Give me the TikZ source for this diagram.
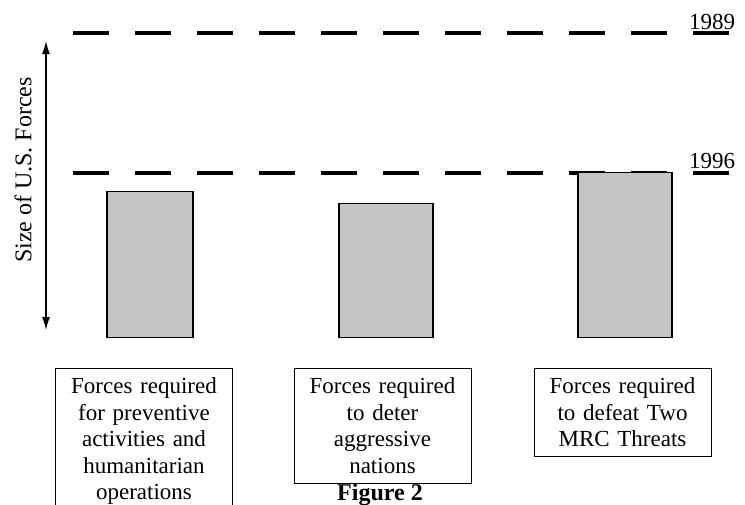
\documentclass[tikz,border=0pt]{standalone}
\usepackage{fontspec}
\setmainfont{Liberation Serif}
\usetikzlibrary{arrows.meta}
\tikzset{
  dashline/.style={line width=3.7pt, dash pattern=on 36pt off 26pt},
  barbox/.style={draw=black, line width=1.5pt, fill=black!23, inner sep=0pt},
  textbox/.style={draw=black, line width=1pt, anchor=north, minimum width=177pt,
    text width=165pt, align=center, inner xsep=6pt, inner ysep=9.5pt,
    font=\fontsize{23}{26.5}\selectfont},
  yearlabel/.style={anchor=base west, inner sep=0pt, font=\fontsize{23}{26}\selectfont},
  axisarrow/.style={line width=1.2pt, {Latex[length=13pt,width=8pt]}-{Latex[length=13pt,width=8pt]}}
}
\begin{document}
\begin{tikzpicture}[x=1pt,y=-1pt]
\useasboundingbox[fill=white] (0,0) rectangle (745,504);
% dashed reference lines
\coordinate (l89a) at (73,33);
\coordinate (l89b) at (729,33);
\coordinate (l96a) at (73,173);
\coordinate (l96b) at (729,173);
\draw[dashline] (l89a) -- (l89b);
\draw[dashline] (l96a) -- (l96b);
\node[yearlabel] (y89) at (689,29) {1989};
\node[yearlabel] (y96) at (689,168) {1996};
% axis
\coordinate (axtop) at (46,41);
\coordinate (axbot) at (46,330);
\draw[axisarrow] (axbot) -- (axtop);
\node[rotate=90, font=\fontsize{24}{28}\selectfont, inner sep=0pt] (axlabel) at (23,170) {Size of U.S. Forces};
% bars
\node[barbox, anchor=south west, minimum width=86pt, minimum height=146pt] (bar1) at (106,338) {};
\node[barbox, anchor=south west, minimum width=94pt, minimum height=134pt] (bar2) at (338,338) {};
\node[barbox, anchor=south west, minimum width=94pt, minimum height=165pt] (bar3) at (577,338) {};
% text boxes
\node[textbox] (box1) at (144,368) {Forces required\\for preventive\\activities and\\humanitarian\\operations};
\node[textbox] (box2) at (382.5,368) {Forces required\\to deter\\aggressive\\nations};
\node[textbox] (box3) at (622.5,368) {Forces required\\to defeat Two\\MRC Threats};
% caption
\node[anchor=base, inner sep=0pt, font=\bfseries\fontsize{24}{28}\selectfont] (cap) at (380,500) {Figure 2};
\end{tikzpicture}
\end{document}
